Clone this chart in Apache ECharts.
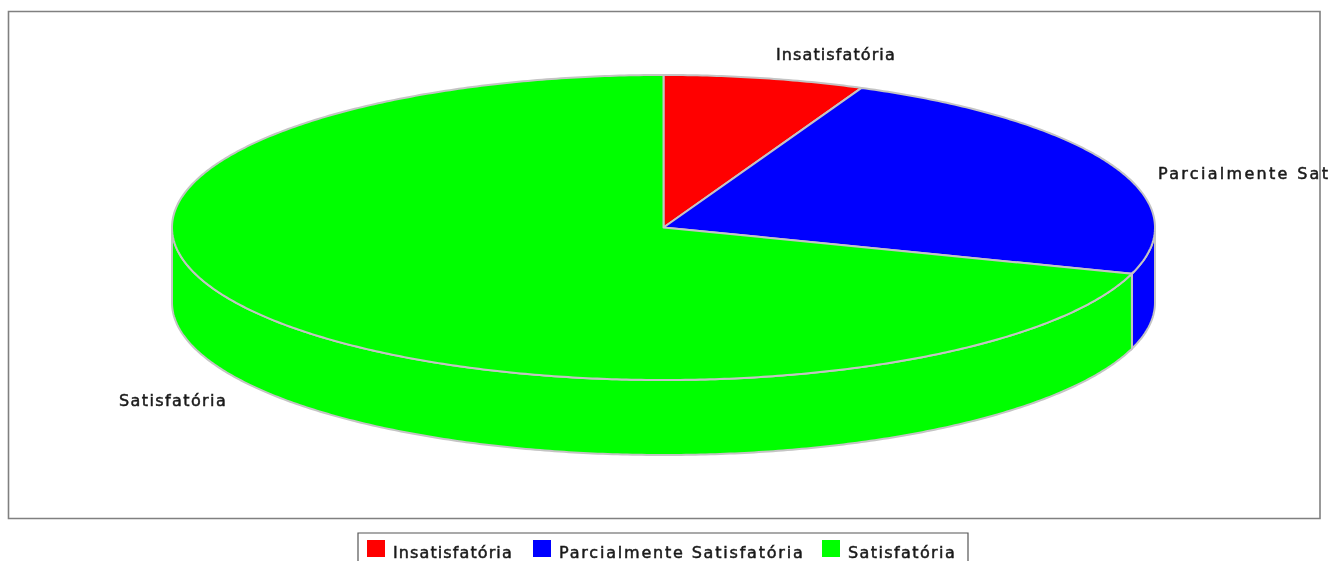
<!DOCTYPE html>
<html>
<head>
<meta charset="utf-8">
<style>
html,body{margin:0;padding:0;background:#fff;overflow:hidden}
#chart{width:1330px;height:561px;filter:blur(0.5px)}
</style>
<script src="https://cdn.jsdelivr.net/npm/echarts@6/dist/echarts.min.js"></script>
</head>
<body>
<div id="chart"></div>
<script>
const categories = ['Insatisfatória', 'Parcialmente Satisfatória', 'Satisfatória'];
const values = [6.6, 23.3, 70.1];
const sliceLabels = ['Insatisfatória', 'Parcialmente Sat', 'Satisfatória'];
const colors = ['#ff0000', '#0000ff', '#00ff00'];

const pieLayout = { cx: 663.5, cy: 227.5, rx: 491.5, ry: 152.5, depth: 75, edge: '#c4c4c4' };
const labelAnchors = [[776, 54.5], [1158, 173], [119, 400]];
const legendLefts = [367, 533, 822];
const fontFamily = '"DejaVu Sans", sans-serif';
const textSpacing = [
  ['Insatisfatória', 1.1],
  ['Parcialmente Satisfatória', 1.8],
  ['Parcialmente Sat', 2.3],
  ['Satisfatória', 1.4]
];

const total = values.reduce((a, b) => a + b, 0);
const startAngles = values.map((_, i) =>
  values.slice(0, i).reduce((a, b) => a + b, 0) / total * Math.PI * 2);
const endAngles = values.map((v, i) => startAngles[i] + v / total * Math.PI * 2);

function rim(a, drop) {
  const p = pieLayout;
  return [p.cx + p.rx * Math.sin(a), p.cy - p.ry * Math.cos(a) + drop];
}
function arc(a0, a1, drop) {
  const n = Math.max(2, Math.ceil(Math.abs(a1 - a0) / 0.01));
  const out = [];
  for (let k = 0; k <= n; k++) out.push(rim(a0 + (a1 - a0) * k / n, drop));
  return out;
}

function renderSlice(i) {
  return function () {
    const p = pieLayout;
    const children = [];
    const w0 = Math.max(startAngles[i], Math.PI / 2);
    const w1 = Math.min(endAngles[i], Math.PI * 1.5);
    if (w1 > w0) {
      children.push({
        type: 'polygon',
        shape: { points: arc(w0, w1, 0).concat(arc(w1, w0, p.depth)) },
        style: { fill: colors[i], stroke: p.edge, lineWidth: 2 }
      });
    }
    children.push({
      type: 'polygon',
      shape: { points: [[p.cx, p.cy]].concat(arc(startAngles[i], endAngles[i], 0)) },
      style: { fill: colors[i], stroke: p.edge, lineWidth: 2, lineJoin: 'round' }
    });
    children.push({
      type: 'text',
      z2: 10,
      style: {
        x: labelAnchors[i][0], y: labelAnchors[i][1], text: sliceLabels[i],
        fill: '#1a1a1a', font: '16px ' + fontFamily,
        textAlign: 'left', textVerticalAlign: 'middle'
      }
    });
    return { type: 'group', children };
  };
}

const chart = echarts.init(document.getElementById('chart'), null, { renderer: 'svg' });
chart.setOption({
  animation: false,
  backgroundColor: '#ffffff',
  graphic: [{
    type: 'rect', z: -1,
    shape: { x: 8.5, y: 11.5, width: 1311.5, height: 507 },
    style: { fill: '#ffffff', stroke: '#808080', lineWidth: 1.6 }
  }, {
    type: 'rect', z: -1,
    shape: { x: 358, y: 533, width: 610, height: 40 },
    style: { fill: '#ffffff', stroke: '#555555', lineWidth: 1.2 }
  }],
  legend: categories.map((name, i) => ({
    left: legendLefts[i], top: 540, padding: 0,
    itemWidth: 18, itemHeight: 17,
    icon: 'rect',
    selectedMode: false,
    textStyle: { fontSize: 16, color: '#1a1a1a', fontFamily, padding: [0, 0, 0, 3] },
    data: [name]
  })),
  series: categories.map((name, i) => ({
    type: 'custom',
    name,
    coordinateSystem: 'none',
    silent: true,
    clip: false,
    itemStyle: { color: colors[i] },
    data: [[values[i]]],
    renderItem: renderSlice(i)
  }))
});

// Stretch the letters the way the reference's rendering does, and seat the
// legend text slightly below its swatch centre as in the reference.
const spacingByText = new Map(textSpacing);
document.querySelectorAll('#chart text').forEach(node => {
  const s = spacingByText.get(node.textContent);
  if (s !== undefined) {
    node.style.letterSpacing = s + 'px';
    node.style.stroke = '#1a1a1a';
    node.style.strokeWidth = '0.5px';
    if (node.getBoundingClientRect().top > 530) node.setAttribute('dy', '3.5');
  }
});
</script>
</body>
</html>
